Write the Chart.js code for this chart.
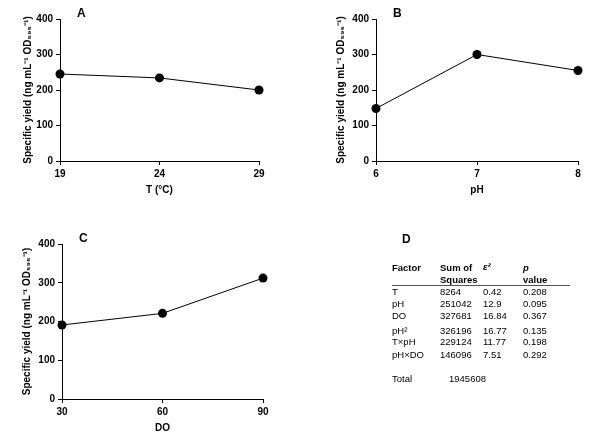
<!DOCTYPE html>
<html>
<head>
<meta charset="utf-8">
<script src="https://cdn.jsdelivr.net/npm/chart.js@4"></script>
<style>
  body { margin: 0; background: #fff; width: 600px; height: 446px; overflow: hidden; position: relative; font-family: "Liberation Sans", Arial, sans-serif; }
  .panel { position: absolute; }
  #tableD { position: absolute; left: 0; top: 0; width: 600px; height: 446px; font-size: 9.5px; color: #000; }
  #tableD span { position: absolute; white-space: nowrap; line-height: 1; transform: translateY(-50%); }
  #tableD .b { font-weight: bold; }
</style>
</head>
<body>
<canvas id="chartA" class="panel" width="300" height="220" style="left:0;top:0"></canvas>
<canvas id="chartB" class="panel" width="300" height="220" style="left:300px;top:0"></canvas>
<canvas id="chartC" class="panel" width="300" height="221" style="left:0;top:225px"></canvas>
<div id="tableD"></div>

<script>
// panel A: temperature
const tempX = [19, 24, 29];
const tempYield = [245, 234, 200];
// panel B: pH
const phX = [6, 7, 8];
const phYield = [148, 300, 255];
// panel C: dissolved oxygen
const doX = [30, 60, 90];
const doYield = [191, 221, 312];

const yTicks = [0, 100, 200, 300, 400];
const yTitle = 'Specific yield (ng mL\u207B\u00B9 OD\u2085\u2089\u2085\u207B\u00B9)';

// panel D: ANOVA table
const factors = ['T', 'pH', 'DO', 'pH\u00B2', 'T\u00D7pH', 'pH\u00D7DO'];
const sumSquares = ['8264', '251042', '327681', '326196', '229124', '146096'];
const epsSquared = ['0.42', '12.9', '16.84', '16.77', '11.77', '7.51'];
const pValues = ['0.208', '0.095', '0.367', '0.135', '0.198', '0.292'];
const totalSS = '1945608';

const font = "'Liberation Sans', Arial, sans-serif";

const panelLabel = {
  id: 'panelLabel',
  afterDraw(chart, args, opts) {
    const ctx = chart.ctx;
    ctx.save();
    ctx.font = 'bold 12px ' + font;
    ctx.fillStyle = '#000';
    ctx.textBaseline = 'middle';
    ctx.fillText(opts.text, chart.chartArea.left + 17, chart.chartArea.top - 5);
    ctx.restore();
  }
};

function makePanel(id, letter, xs, ys, xTitle, pad, yWidth) {
  const points = xs.map((x, i) => ({ x: x, y: ys[i] }));
  return new Chart(document.getElementById(id), {
    type: 'line',
    data: {
      datasets: [{
        data: points,
        borderColor: '#000',
        borderWidth: 1,
        backgroundColor: '#000',
        pointRadius: 4.5,
        pointBorderWidth: 0,
        tension: 0,
        clip: false
      }]
    },
    plugins: [panelLabel],
    options: {
      responsive: false,
      animation: false,
      layout: { padding: pad },
      plugins: {
        legend: { display: false },
        tooltip: { enabled: false },
        panelLabel: { text: letter }
      },
      scales: {
        x: {
          type: 'linear',
          min: xs[0],
          max: xs[xs.length - 1],
          afterBuildTicks: (s) => { s.ticks = xs.map(v => ({ value: v })); },
          afterFit: (s) => { s.height = 39; },
          grid: { drawOnChartArea: false, drawTicks: true, tickLength: 4, color: '#000' },
          border: { color: '#000', width: 1 },
          ticks: { color: '#000', font: { family: font, size: 10, weight: 'bold' }, padding: 3, maxRotation: 0 },
          title: { display: true, text: xTitle, color: '#000', font: { family: font, size: 10, weight: 'bold' } }
        },
        y: {
          min: 0,
          max: 400,
          afterBuildTicks: (s) => { s.ticks = yTicks.map(v => ({ value: v })); },
          afterFit: (s) => { s.width = yWidth; },
          grid: { drawOnChartArea: false, drawTicks: true, tickLength: 4, color: '#000' },
          border: { color: '#000', width: 1 },
          ticks: { color: '#000', font: { family: font, size: 10, weight: 'bold' }, padding: 3 },
          title: { display: true, text: yTitle, color: '#000', font: { family: font, size: 10, weight: 'bold' } }
        }
      }
    }
  });
}

makePanel('chartA', 'A', tempX, tempYield, 'T (\u00B0C)', { left: 18, top: 19, right: 41, bottom: 20 }, 42);
makePanel('chartB', 'B', phX, phYield, 'pH', { left: 31, top: 19, right: 22, bottom: 20 }, 45);
makePanel('chartC', 'C', doX, doYield, 'DO', { left: 17, top: 19, right: 37, bottom: 8 }, 45);

// table D
const tbl = document.getElementById('tableD');
function put(text, x, y, cls) {
  const s = document.createElement('span');
  s.textContent = text;
  s.style.left = x + 'px';
  s.style.top = y + 'px';
  if (cls) s.className = cls;
  tbl.appendChild(s);
  return s;
}
const colX = [392, 440, 483, 523];
const rowY = [292, 304, 316, 331, 342, 355];
const d = put('D', 402, 239, 'b');
d.style.fontSize = '12px';
put('Factor', colX[0], 268, 'b');
put('Sum of', colX[1], 268, 'b');
put('Squares', colX[1], 280, 'b');
put('\u03B5\u00B2', colX[2], 267, 'b').style.fontStyle = 'italic';
put('p', colX[3], 268, 'b').style.fontStyle = 'italic';
put('value', colX[3], 280, 'b');
const rule = document.createElement('div');
rule.style.cssText = 'position:absolute;left:392px;top:285px;width:178px;height:1px;background:#555';
tbl.appendChild(rule);
factors.forEach((f, i) => {
  put(f, colX[0], rowY[i]);
  put(sumSquares[i], colX[1], rowY[i]);
  put(epsSquared[i], colX[2], rowY[i]);
  put(pValues[i], colX[3], rowY[i]);
});
put('Total', colX[0], 379);
put(totalSS, 449, 379);
</script>
</body>
</html>
